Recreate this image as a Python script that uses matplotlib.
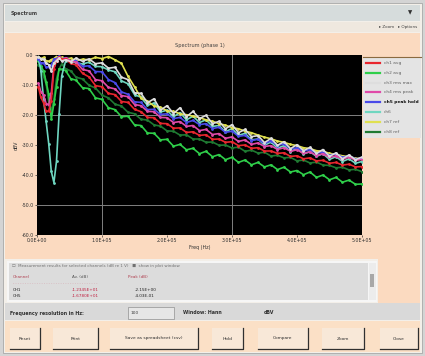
import numpy as np
import matplotlib.pyplot as plt
from matplotlib.patches import Rectangle
from matplotlib.ticker import FuncFormatter

# frequency bins (kHz)
freq_khz = [2, 6, 10, 14, 18, 22, 26, 30, 34, 38, 44, 52,
            60, 70, 80, 90, 100, 110, 120, 130, 140, 150, 160, 170, 180, 190,
            200, 210, 220, 230, 240, 250, 260, 270, 280, 290, 300, 310, 320,
            330, 340, 350, 360, 370, 380, 390, 400, 410, 420, 430, 440, 450,
            460, 470, 480, 490, 500]

# spectra per channel (dB)
ch_green = [-2.0, -3.8, -5.2, -8.9, -13.0, -21.4, -16.2, -10.5, -4.6, -4.8, -5.2, -7.9,
            -8.4, -10.9, -11.2, -14.3, -14.8, -17.6, -18.2, -20.6, -20.4, -23.3, -23.5, -26.0,
            -26.1, -28.3, -28.1, -30.4, -29.8, -31.6, -31.1, -32.9, -32.1, -33.9, -33.2, -34.9,
            -34.1, -35.8, -35.0, -36.6, -35.8, -37.3, -36.6, -38.2, -37.4, -39.0, -38.5, -39.9,
            -39.0, -40.8, -40.0, -41.6, -40.8, -42.4, -41.7, -43.1, -43.0]
ch_dkgreen = [-3.2, -4.0, -7.1, -9.6, -15.4, -18.6, -14.8, -7.9, -4.7, -3.0, -4.6, -5.3,
              -7.4, -8.0, -10.1, -11.0, -13.4, -14.3, -16.4, -17.0, -19.1, -19.6, -21.4, -21.7,
              -23.3, -23.7, -25.3, -25.4, -26.7, -26.6, -28.0, -28.0, -29.1, -29.0, -30.1, -30.0,
              -31.0, -30.7, -32.1, -31.7, -32.7, -32.4, -33.7, -33.4, -34.3, -34.1, -35.3, -35.0,
              -36.0, -35.7, -36.7, -36.8, -37.6, -37.4, -38.3, -38.1, -38.9]
ch_teal = [-1.0, -5.2, -14.6, -22.1, -29.5, -38.8, -42.5, -35.4, -19.6, -7.0, -2.0, -2.1,
           -2.6, -3.0, -2.4, -3.8, -3.9, -5.0, -5.6, -8.6, -9.6, -13.2, -14.1, -16.8,
           -16.0, -19.0, -18.4, -20.6, -19.2, -21.6, -20.4, -22.5, -21.6, -23.8, -23.5, -25.6,
           -24.5, -26.8, -26.1, -28.3, -28.0, -30.1, -29.0, -31.1, -30.2, -32.2, -31.1, -33.0,
           -32.2, -33.8, -32.9, -34.8, -33.9, -35.5, -34.6, -36.1, -35.5]
ch_yellow = [-0.6, -1.2, -0.8, -1.9, -2.1, -1.5, -1.2, -0.5, -0.9, -0.8, -1.2, -1.1,
             -1.9, -1.4, -1.6, -0.8, -1.2, -0.5, -1.6, -2.8, -7.1, -10.6, -14.3, -15.4,
             -17.0, -17.4, -18.6, -18.8, -19.6, -19.9, -20.4, -20.9, -21.6, -22.1, -22.9, -23.4,
             -24.2, -24.6, -25.4, -25.9, -26.7, -27.4, -27.9, -28.7, -29.1, -29.8, -30.2, -30.9,
             -31.2, -31.9, -32.1, -32.8, -33.1, -33.6, -33.9, -34.4, -34.6]
ch_blue = [-1.4, -2.7, -2.6, -4.1, -3.9, -3.4, -1.3, -1.2, -0.4, -1.3, -0.9, -2.1,
           -1.9, -3.8, -3.6, -5.5, -5.6, -8.2, -9.2, -12.3, -13.1, -15.6, -15.8, -18.2,
           -18.1, -19.8, -19.6, -21.2, -20.8, -22.5, -21.8, -23.2, -22.9, -24.5, -24.1, -25.8,
           -25.4, -27.1, -26.8, -28.5, -28.1, -29.5, -28.6, -30.2, -29.6, -31.4, -30.9, -32.1,
           -31.5, -32.8, -32.3, -33.4, -32.9, -34.1, -33.6, -34.6, -34.4]
ch_magenta = [-9.4, -12.2, -13.3, -16.2, -16.6, -12.8, -3.3, -1.6, -0.7, -1.5, -1.0, -2.0,
              -2.4, -4.8, -5.3, -8.2, -8.6, -10.8, -11.3, -13.5, -13.9, -16.5, -16.9, -18.8,
              -18.9, -20.8, -20.9, -22.5, -22.2, -23.8, -23.5, -25.2, -24.8, -26.5, -26.2, -27.8,
              -27.3, -28.8, -28.3, -29.8, -29.3, -30.5, -30.2, -31.5, -30.9, -32.1, -31.6, -32.8,
              -32.3, -33.5, -32.9, -34.1, -33.6, -34.8, -34.0, -35.1, -34.8]
ch_red = [-10.6, -14.1, -15.9, -18.8, -18.6, -15.4, -4.6, -2.0, -0.8, -1.3, -1.4, -2.8,
          -3.3, -6.1, -7.3, -10.2, -10.6, -12.8, -13.2, -15.5, -15.8, -18.1, -18.9, -20.8,
          -20.9, -22.8, -22.9, -24.4, -24.3, -25.8, -25.6, -26.8, -26.6, -28.1, -28.0, -29.1,
          -28.9, -30.2, -30.0, -31.1, -30.9, -32.0, -32.0, -32.8, -32.6, -33.8, -33.6, -34.6,
          -34.3, -35.3, -35.1, -36.1, -35.8, -36.7, -36.4, -37.3, -37.2]
ch_white = [-0.5, -1.2, -1.4, -2.8, -3.2, -5.4, -2.6, -1.9, -1.0, -2.0, -1.6, -2.2,
            -1.0, -2.1, -1.3, -2.9, -2.6, -4.4, -4.1, -7.4, -8.2, -12.6, -12.8, -15.9,
            -14.6, -18.4, -16.9, -19.5, -17.6, -20.6, -18.8, -21.2, -20.1, -22.9, -22.1, -24.6,
            -23.2, -25.9, -24.8, -27.2, -26.9, -29.2, -27.8, -30.1, -28.9, -31.2, -29.9, -31.9,
            -30.8, -32.8, -31.5, -33.8, -32.6, -34.6, -33.3, -34.9, -34.0]

names = ["ch1 avg", "ch2 avg", "ch3 rms max", "ch4 rms peak",
         "ch5 peak hold", "ch6", "ch7 ref", "ch8 ref"]
channels = [ch_red, ch_green, ch_white, ch_magenta, ch_blue, ch_teal, ch_yellow, ch_dkgreen]
colors = ["#e8262e", "#2fcf4a", "#dedede", "#e04aa8", "#4a4ae8", "#6fd6c0", "#e0e050", "#1f7a32"]
draw_order = [7, 1, 5, 6, 4, 3, 0, 2]

xticks_hz = [0, 100000, 200000, 300000, 400000, 500000]
yticks_db = [0, -10, -20, -30, -40, -50, -60]

fig = plt.figure(figsize=(4.25, 3.56), dpi=100)
fig.patch.set_facecolor('#d4d4d4')

# window chrome, drawn in pixel units
bg = fig.add_axes([0, 0, 1, 1])
bg.set_xlim(0, 425)
bg.set_ylim(356, 0)
bg.axis('off')


def box(x, y, w, h, fc, ec='none', lw=0.6):
    bg.add_patch(Rectangle((x, y), w, h, facecolor=fc, edgecolor=ec, linewidth=lw))


def txt(x, y, s, size=3.4, color='#303030', ha='left', weight='normal', rot=0):
    bg.text(x, y, s, fontsize=size, color=color, ha=ha, va='center',
            fontweight=weight, rotation=rot)


box(3, 3, 419, 350, '#f3efe9', ec='#a8a8a8')
box(5, 5, 415, 16, '#d6dcdc')
txt(11, 13, "Spectrum", size=3.6, weight='bold', color='#404040')
txt(410, 13, "▼", size=4, color='#303030', ha='center')
box(5, 22, 415, 10, '#efe8df')
txt(417, 27, "▸ Zoom   ▸ Options", size=3.0, ha='right', color='#404040')
box(5, 33, 415, 226, '#fbdac0')
txt(200, 46, "Spectrum (phase 1)", size=3.6, ha='center', color='#404040')

# legend
box(363, 57, 58, 81, '#e4e4e4')
bg.plot([363, 421], [57, 57], color='#8a6a40', lw=0.8)
for i, (name, c) in enumerate(zip(names, colors)):
    yy = 63 + i * 9.8
    bg.plot([366, 380], [yy, yy], color=c, lw=1.6)
    if i == 4:
        txt(384, yy, name, size=3.2, color='#101010', weight='bold')
    else:
        txt(384, yy, name, size=3.2, color='#606060')

# results panel
box(7, 261, 370, 41, '#f6f6f6')
box(9, 263, 359, 37, '#dcdcdc')
box(369, 263, 7, 37, '#ececec')
box(370.5, 274, 4, 13, '#a8a8a8')
txt(12, 266, "☐  Measurement results for selected channels (dB re 1 V)   ■  show in plot window",
    size=2.9, color='#707070')
txt(13, 277, "Channel", size=3.0, color='#b04050')
txt(72, 277, "Av. (dB)", size=3.0, color='#505050')
txt(128, 277, "Peak (dB)", size=3.0, color='#b04050')
txt(13, 283, "- - - - - - - - - - - - - - - - - - - - - - - - - - - - - - - - - - - -",
    size=2.6, color='#d08090')
txt(13, 290, "CH1", size=3.0, color='#202020')
txt(72, 290, "-1.2345E+01", size=3.0, color='#c02040')
txt(135, 290, "-2.15E+00", size=3.0, color='#202020')
txt(13, 296, "CH5", size=3.0, color='#202020')
txt(72, 296, "-1.6780E+01", size=3.0, color='#c02040')
txt(135, 296, "-4.03E-01", size=3.0, color='#202020')
box(378, 259, 42, 44, '#fbdac0')

# parameter row
box(5, 303, 415, 17, '#d9d9d9')
txt(10, 313, "Frequency resolution in Hz:", size=3.4, weight='bold', color='#303030')
box(128, 307, 46, 12, '#e6e6e6', ec='#909090', lw=0.5)
txt(131, 313, "100", size=3.2, color='#404040')
txt(183, 313, "Window: Hann", size=3.4, weight='bold', color='#303030')
txt(264, 313, "dBV", size=3.4, weight='bold', color='#303030')

# button row
box(5, 321, 415, 31, '#fbe0c6')
buttons = [(10, 30, "Reset"), (53, 45, "Print"), (110, 88, "Save as spreadsheet (csv)"),
           (212, 31, "Hold"), (258, 50, "Compare"), (322, 42, "Zoom"), (380, 38, "Close")]
for bx, bw, label in buttons:
    box(bx, 328, bw, 21, '#f8e8d8')
    bg.plot([bx, bx + bw, bx + bw], [349, 349, 328], color='#303030', lw=0.9)
    txt(bx + bw / 2, 338.5, label, size=3.2, ha='center', color='#303030')

# spectrum plot
ax = fig.add_axes([37 / 425, 1 - 235 / 356, 325 / 425, 180 / 356])
ax.set_facecolor('black')
f_hz = np.array(freq_khz) * 1000.0
for i in draw_order:
    ax.plot(f_hz, channels[i], color=colors[i], lw=1.2, marker='.', ms=2.0)
for xv in [100000, 300000]:
    ax.axvline(xv, color='#808080', lw=0.7, zorder=0)
for yv in [-20, -50]:
    ax.axhline(yv, color='#808080', lw=0.7, zorder=0)
ax.set_xlim(0, 500000)
ax.set_ylim(-60, 0)
ax.set_xticks(xticks_hz)
ax.set_yticks(yticks_db)
ax.xaxis.set_major_formatter(FuncFormatter(lambda v, p: "%.1E" % v))
ax.yaxis.set_major_formatter(FuncFormatter(lambda v, p: "%.1f" % v))
ax.tick_params(labelsize=3.4, length=1.5, width=0.5, pad=1, colors='#303030')
for s in ax.spines.values():
    s.set_visible(False)
ax.set_xlabel("Freq (Hz)", fontsize=3.4, labelpad=1, color='#303030')
ax.set_ylabel("dBV", fontsize=3.4, labelpad=2, color='#303030')

fig.savefig("out.png", dpi=100, facecolor=fig.get_facecolor())
